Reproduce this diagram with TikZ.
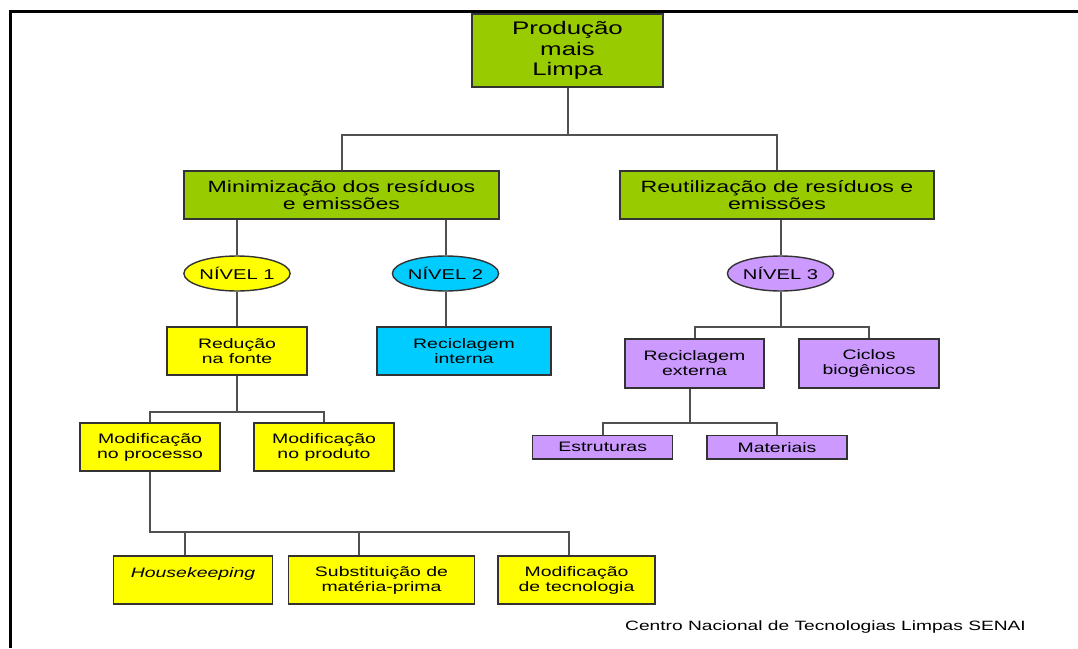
\documentclass[tikz,border=0pt]{standalone}
\usepackage{fontspec}
\setmainfont{Liberation Sans}[FakeStretch=1.42]
\usepackage{tikz}
\usetikzlibrary{positioning,calc,shapes.geometric}
\definecolor{pmlgreen}{HTML}{99CC00}
\definecolor{pmlyellow}{HTML}{FFFF00}
\definecolor{pmlcyan}{HTML}{00CCFF}
\definecolor{pmlviolet}{HTML}{CC99FF}
\definecolor{linkc}{HTML}{505050}
\definecolor{edgec}{HTML}{333333}
\newcommand{\fsz}[2]{\fontsize{#1}{#2}\selectfont}
\tikzset{
  blk/.style={draw=edgec, line width=1.4pt, align=center, inner sep=0pt, text=black},
  topblk/.style={blk, fill=pmlgreen, font=\fsz{18.2}{20.5}},
  bigblk/.style={blk, fill=pmlgreen, font=\fsz{16.3}{17.7}},
  smallblk/.style={blk, font=\fsz{13.7}{15}},
  lvl/.style={ellipse, draw=edgec, line width=1.4pt, inner sep=0pt,
              minimum width=106pt, minimum height=35pt, font=\fsz{14.2}{15}},
  link/.style={draw=linkc, line width=2pt}
}
\begin{document}
\begin{tikzpicture}[x=1pt, y=-1pt]
  \useasboundingbox (0,0) rectangle (1078,648);
  % frame
  \draw[line width=3pt] (10,648) -- (10,11) -- (1078,11);

  % boxes
  \node[topblk, minimum width=191pt, minimum height=73pt] (pml) at (567.5,50.5) {Produção\\mais\\Limpa};
  \node[bigblk, minimum width=315pt, minimum height=48pt] (mini) at (341.5,195) {Minimização dos resíduos\\e emissões};
  \node[bigblk, minimum width=314pt, minimum height=48pt] (reut) at (777,195) {Reutilização de resíduos e\\emissões};
  \node[lvl, fill=pmlyellow] (n1) at (237,273.5) {NÍVEL 1};
  \node[lvl, fill=pmlcyan] (n2) at (445.5,273.5) {NÍVEL 2};
  \node[lvl, fill=pmlviolet] (n3) at (780.5,273.5) {NÍVEL 3};
  \node[smallblk, fill=pmlyellow, minimum width=140pt, minimum height=48pt] (red) at (237,351) {Redução\\na fonte};
  \node[smallblk, fill=pmlcyan, minimum width=174pt, minimum height=48pt] (rint) at (464,351) {Reciclagem\\interna};
  \node[smallblk, fill=pmlviolet, minimum width=139pt, minimum height=49pt] (rext) at (694.5,363.5) {Reciclagem\\externa};
  \node[smallblk, fill=pmlviolet, minimum width=140pt, minimum height=49pt] (cbio) at (869,363.5) {Ciclos\\biogênicos};
  \node[smallblk, fill=pmlviolet, minimum width=140pt, minimum height=23.5pt] (estr) at (602.7,447.3) {Estruturas};
  \node[smallblk, fill=pmlviolet, minimum width=140pt, minimum height=23.5pt] (mat) at (777,447.3) {Materiais};
  \node[smallblk, fill=pmlyellow, minimum width=140pt, minimum height=48pt] (mproc) at (150,447) {Modificação\\no processo};
  \node[smallblk, fill=pmlyellow, minimum width=140pt, minimum height=48pt] (mprod) at (324,447) {Modificação\\no produto};
  \node[smallblk, fill=pmlyellow, minimum width=159pt, minimum height=48pt] (hk) at (193,580) {\itshape Housekeeping\\\mbox{}};
  \node[smallblk, fill=pmlyellow, minimum width=186pt, minimum height=48pt] (subst) at (381.5,580) {Substituição de\\matéria-prima};
  \node[smallblk, fill=pmlyellow, minimum width=157pt, minimum height=48pt] (mtec) at (576.5,580) {Modificação\\de tecnologia};
  \node[anchor=base west, inner sep=0pt, font=\fsz{13.5}{15}] (src) at (625,630) {Centro Nacional de Tecnologias Limpas SENAI};

  % connectors
  \coordinate (b0) at (567.5,135);
  \draw[link] (pml.south) -- (b0);
  \draw[link] (mini.north) |- (b0) -| (reut.north);
  \draw[link] (n1.north) -- (n1.north |- mini.south);
  \draw[link] (n2.north) -- (n2.north |- mini.south);
  \draw[link] (n3.north) -- (n3.north |- reut.south);
  \draw[link] (n1.south) -- (red.north);
  \draw[link] (n2.south) -- (n2.south |- rint.north);

  \coordinate (b3) at (780.5,327);
  \draw[link] (n3.south) -- (b3);
  \draw[link] (rext.north) |- (b3) -| (cbio.north);

  \coordinate (b4) at (237,411.5);
  \draw[link] (red.south) -- (b4);
  \draw[link] (mproc.north) |- (b4) -| (mprod.north);

  \coordinate (b5) at (690,423);
  \draw[link] (b5 |- rext.south) -- (b5);
  \draw[link] (estr.north) |- (b5) -| (mat.north);

  \coordinate (d1) at (185,532);
  \coordinate (d2) at (359,532);
  \coordinate (d3) at (568.5,532);
  \draw[link] (mproc.south) |- (d3) -- (d3 |- mtec.north);
  \draw[link] (d1) -- (d1 |- hk.north);
  \draw[link] (d2) -- (d2 |- subst.north);
\end{tikzpicture}
\end{document}
